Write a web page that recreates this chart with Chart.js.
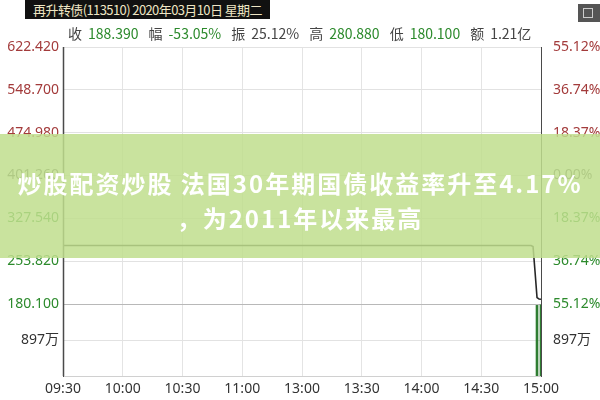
<!DOCTYPE html>
<html>
<head>
<meta charset="utf-8">
<script src="https://cdn.jsdelivr.net/npm/chart.js@4.4.1/dist/chart.umd.min.js"></script>
<style>
  body { margin: 0; background: #fff; }
  #wrap { position: relative; width: 600px; height: 400px; overflow: hidden; font-family: "Noto Sans CJK SC", "Noto Sans", sans-serif; }
  #chart { position: absolute; left: 0; top: 0; }
  #title { position: absolute; left: 25px; top: 0; width: 245px; height: 19px; background: #111; color: #efe6c4; font-size: 13px; line-height: 19px; letter-spacing: -0.6px; text-align: center; white-space: nowrap; }
  #icons { position: absolute; left: 578px; top: 4px; width: 22px; height: 18px; background: #555; }
  #icons span { position: absolute; left: 5px; top: 4px; width: 8px; height: 8px; border: 1px solid #ccc; }
  #stats { position: absolute; left: 68px; top: 23px; font-size: 14px; color: #444; white-space: nowrap; }
  #stats b { font-weight: normal; color: #2c8a2c; margin: 0 10px 0 6px; }
  #stats i { font-style: normal; color: #444; margin: 0 10px 0 6px; }
  #banner { position: absolute; left: 0; top: 134px; width: 600px; height: 124px; background: rgba(191, 222, 141, 0.85); }
  #banner div { position: absolute; left: 0; width: 600px; text-align: center; color: #fff; font-weight: bold; font-size: 24px; line-height: 35px; letter-spacing: 2px; white-space: nowrap; }
</style>
</head>
<body>
<div id="wrap">
  <canvas id="chart" width="600" height="400"></canvas>
  <div id="title">再升转债(113510) 2020年03月10日 星期二</div>
  <div id="icons"><span></span></div>
  <div id="stats">收<b>188.390</b>幅<b>-53.05%</b>振<i>25.12%</i>高<b>280.880</b>低<b>180.100</b>额<i>1.21亿</i></div>
  <div id="banner">
    <div style="top: 31px;">炒股配资炒股 法国30年期国债收益率升至4.17%</div>
    <div style="top: 66px;">，为2011年以来最高</div>
  </div>
</div>
<script>
const timeLabels = ['09:30', '10:00', '10:30', '11:00', '13:00', '13:30', '14:00', '14:30', '15:00'];
const prevClose = 401.26;
const priceTicks = [180.100, 253.820, 327.540, 401.260, 474.980, 548.700, 622.420];
const pctLabels = ['55.12%', '36.74%', '18.37%', '0.00%', '18.37%', '36.74%', '55.12%'];
const volTicks = [897];
const volMax = 1794;

// minute index from 09:30 (0) to 15:00 (240)
const priceMinutes = [0, 235, 236, 237, 238, 239, 240];
const priceValues = [280.88, 280.88, 279.0, 236.0, 191.0, 188.8, 188.39];
const volMinutes = [238, 240];
const volValues = [1760, 1775];

const red = '#a33b3b';
const green = '#2c8a2c';
const tickFont = { family: '"Noto Sans", "Noto Sans CJK SC", sans-serif', size: 14 };

function priceColor(ctx) {
  const v = ctx.tick ? ctx.tick.value : 0;
  if (v > prevClose + 0.01) return red;
  if (v < prevClose - 0.01) return green;
  return '#555';
}

// dark frame line on the left edge of the plot
const leftEdge = {
  id: 'leftEdge',
  afterDraw(chart) {
    const { ctx, chartArea } = chart;
    ctx.save();
    ctx.strokeStyle = '#4a4a4a';
    ctx.lineWidth = 1.5;
    ctx.beginPath();
    ctx.moveTo(Math.round(chartArea.left) + 0.5, chartArea.top);
    ctx.lineTo(Math.round(chartArea.left) + 0.5, chartArea.bottom);
    ctx.stroke();
    ctx.restore();
  }
};

new Chart(document.getElementById('chart'), {
  data: {
    datasets: [
      {
        type: 'line',
        data: priceMinutes.map((m, i) => ({ x: m, y: priceValues[i] })),
        borderColor: '#262626',
        borderWidth: 1.6,
        pointRadius: 0,
        yAxisID: 'yP'
      },
      {
        type: 'bar',
        data: volMinutes.map((m, i) => ({ x: m, y: volValues[i] })),
        backgroundColor: '#2f7d32',
        barThickness: 2,
        yAxisID: 'yV'
      }
    ]
  },
  options: {
    responsive: false,
    animation: false,
    layout: { padding: { top: 47 } },
    plugins: { legend: { display: false }, tooltip: { enabled: false } },
    scales: {
      x: {
        type: 'linear',
        offset: false,
        min: 0,
        max: 240,
        afterBuildTicks: s => { s.ticks = timeLabels.map((t, i) => ({ value: i * 30 })); },
        afterFit: s => { s.height = 24; },
        ticks: {
          callback: v => timeLabels[v / 30],
          color: '#333',
          font: tickFont,
          maxRotation: 0,
          autoSkip: false,
          padding: 5
        },
        grid: {
          color: ctx => (ctx.tick && (ctx.tick.value === 0 || ctx.tick.value === 240)) ? 'rgba(0,0,0,0)' : '#e4e4e4',
          drawTicks: false,
          offset: false
        },
        border: { color: '#d0d0d0' }
      },
      yP: {
        type: 'linear',
        position: 'left',
        stack: 'left',
        stackWeight: 257,
        weight: 1,
        min: priceTicks[0],
        max: priceTicks[priceTicks.length - 1],
        afterBuildTicks: s => { s.ticks = priceTicks.map(v => ({ value: v })); },
        afterFit: s => { s.width = 63; },
        ticks: {
          callback: v => v.toFixed(3),
          color: priceColor,
          font: tickFont,
          padding: 4
        },
        grid: {
          color: ctx => (ctx.tick && ctx.tick.value === priceTicks[0]) ? '#b8b8b8' : '#e2e2e2',
          drawTicks: false
        },
        border: { color: '#4a4a4a' }
      },
      yV: {
        type: 'linear',
        position: 'left',
        stack: 'left',
        stackWeight: 72,
        weight: 0,
        min: 0,
        max: volMax,
        afterBuildTicks: s => { s.ticks = volTicks.map(v => ({ value: v })); },
        afterFit: s => { s.width = 63; },
        ticks: { callback: v => v + '万', color: '#333', font: tickFont, padding: 4 },
        grid: { color: '#e2e2e2', drawTicks: false },
        border: { color: '#4a4a4a' }
      },
      yPct: {
        type: 'linear',
        position: 'right',
        stack: 'right',
        stackWeight: 257,
        min: priceTicks[0],
        max: priceTicks[priceTicks.length - 1],
        afterBuildTicks: s => { s.ticks = priceTicks.map(v => ({ value: v })); },
        afterFit: s => { s.width = 59; },
        ticks: {
          callback: (v, i) => pctLabels[i],
          color: priceColor,
          font: tickFont,
          padding: 4
        },
        grid: { display: false },
        border: { color: '#4a4a4a' }
      },
      yV2: {
        type: 'linear',
        position: 'right',
        stack: 'right',
        stackWeight: 72,
        min: 0,
        max: volMax,
        afterBuildTicks: s => { s.ticks = volTicks.map(v => ({ value: v })); },
        afterFit: s => { s.width = 59; },
        ticks: { callback: v => v + '万', color: '#333', font: tickFont, padding: 4 },
        grid: { display: false },
        border: { color: '#4a4a4a' }
      }
    }
  },
  plugins: [leftEdge]
});
</script>
</body>
</html>
